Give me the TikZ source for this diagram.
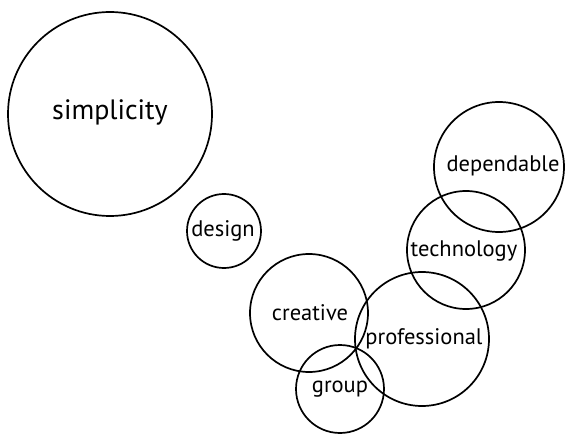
\documentclass[tikz,border=0pt]{standalone}
\usepackage{fontspec}
\setmainfont{PT Sans}

\begin{document}
\begin{tikzpicture}[x=1pt, y=-1pt, line width=1.7pt,
    bubble/.style={draw, circle, inner sep=0pt},
    word/.style={font=\fontsize{22.5}{22.5}\selectfont}]
\useasboundingbox (0,0) rectangle (566,436);
% word bubbles: name/x/y/radius
\foreach \n/\x/\y/\r in {simplicity/110/114/102,
    design/224/231/37,
    creative/309/313/59,
    professional/422/339/67,
    group/340/389/44,
    technology/466/250/59,
    dependable/499/167/65} {
    \node[bubble, minimum size=2*\r pt] (\n) at (\x,\y) {};
}
% labels
\node[word, font=\fontsize{28}{28}\selectfont] (simplicity-t) at (110,112) {simplicity};
\node[word] (design-t) at (223,231) {design};
\node[word] (creative-t) at (310,313) {creative};
\node[word] (professional-t) at (424,339) {professional};
\node[word] (group-t) at (340,389) {group};
\node[word] (technology-t) at (464,251) {technology};
\node[word] (dependable-t) at (503,166) {dependable};
\end{tikzpicture}
\end{document}
